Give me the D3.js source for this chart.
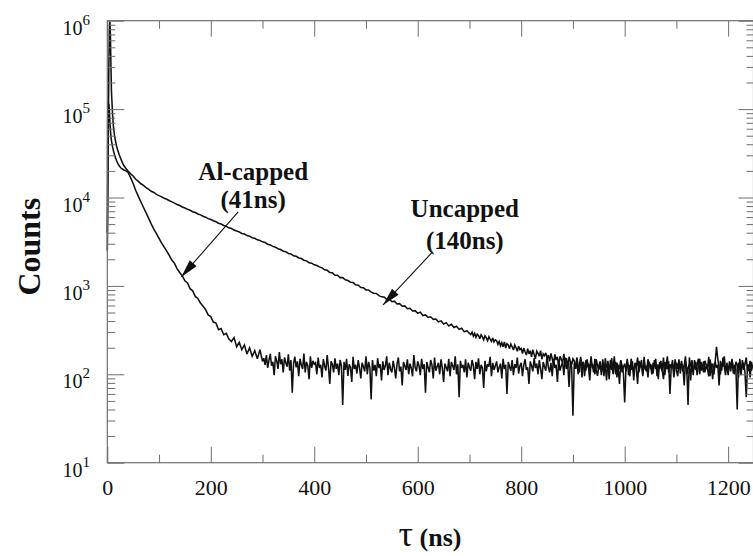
<!DOCTYPE html>
<html>
<head>
<meta charset="utf-8">
<script src="https://cdn.jsdelivr.net/npm/d3@7"></script>
<style>
  html, body { margin: 0; padding: 0; background: #ffffff; }
  svg { display: block; }
</style>
</head>
<body>
<div id="chart"></div>
<script>
// ---------------- data ----------------
const xTicksMajor = [0, 200, 400, 600, 800, 1000, 1200];
const yDecades = [1, 2, 3, 4, 5, 6];          // exponents: 10^1 .. 10^6

// early channels (ns) shared by both curves
const headT = [0, 1, 2, 3, 4, 5, 6, 7, 8, 10, 12, 14, 16, 18, 20, 23, 26, 29, 32, 36];
const uncappedHead = [2500, 9000, 60000, 300000, 750000, 980000, 700000, 320000, 160000, 90000,
                      62000, 50000, 43000, 38000, 34500, 30500, 27500, 25000, 23000, 21300];
const alcappedHead = [4000, 125000, 85000, 115000, 95000, 72000, 58000, 50000, 44000, 38000,
                      33500, 30500, 28000, 26000, 24500, 22800, 21700, 21000, 20500, 20000];

// decay part: one value every 5 ns starting at 40 ns
const tailStart = 40, tailStep = 5;
const uncappedTail = [
  19950, 18500, 17500, 16100, 15200, 14300, 13700, 12900, 12350, 11750,
  11400, 10850, 10500, 10150, 9800, 9540, 9180, 8930, 8650, 8330,
  8120, 7800, 7610, 7350, 7170, 6900, 6750, 6510, 6360, 6130,
  5990, 5770, 5640, 5450, 5320, 5120, 5010, 4820, 4720, 4540,
  4450, 4280, 4190, 4080, 3920, 3860, 3710, 3650, 3510, 3460,
  3320, 3270, 3150, 3090, 2960, 2910, 2800, 2740, 2630, 2580,
  2470, 2440, 2330, 2300, 2190, 2160, 2070, 2040, 1950, 1920,
  1830, 1810, 1730, 1700, 1640, 1600, 1520, 1500, 1420, 1410,
  1320, 1320, 1240, 1240, 1170, 1150, 1100, 1090, 1030, 1020,
  960, 955, 900, 900, 850, 825, 822, 775, 752, 750,
  705, 710, 662, 672, 625, 630, 588, 594, 552, 558,
  520, 525, 490, 505, 462, 470, 440, 447, 418, 422,
  392, 402, 370, 384, 352, 368, 338, 350, 322, 332,
  302, 312, 290
];
const alcappedTail = [
  19300, 16800, 14400, 12000, 10300, 8900, 7700, 6700, 5800, 5000,
  4400, 3900, 3450, 3050, 2750, 2480, 2200, 1950, 1800, 1560,
  1420, 1300, 1140, 1080, 930, 880, 760, 720, 640, 590,
  540, 470, 450, 390, 380, 320, 330, 280, 290, 250,
  235, 260, 205, 230, 190, 215, 170, 200, 160, 185,
  150, 190, 140
];

// noisy background part: one value every 2.5 ns
const noiseStep = 2.5;
const uncappedNoiseStart = 702.5;
const uncappedNoise = [
  282, 300, 270, 290, 262, 285, 275, 252, 280, 265, 245, 272, 258, 240, 266, 250, 236, 258, 232, 245,
  240, 218, 235, 210, 228, 205, 232, 198, 222, 215, 195, 220, 205, 188, 215, 200, 182, 208, 190, 196,
  172, 198, 180, 165, 195, 170, 185, 158, 190, 168, 150, 182, 172, 160, 185, 148, 170, 162, 175, 152,
  165, 140, 172, 150, 128, 168, 145, 158, 122, 160, 148, 135, 170, 130, 152, 118, 158, 140, 128, 150,
  142, 115, 155, 128, 105, 150, 125, 138, 95, 145, 120, 132, 110, 160, 118, 128, 100, 148, 125, 112,
  135, 98, 148, 118, 125, 85, 142, 110, 130, 152, 100, 122, 138, 92, 128, 115, 145, 105, 120, 132,
  108, 140, 118, 95, 150, 125, 102, 135, 115, 78, 142, 120, 130, 100, 158, 112, 125, 92, 138, 118,
  125, 102, 145, 115, 130, 88, 138, 120, 110, 155, 98, 128, 115, 140, 60, 122, 132, 105, 148, 112,
  95, 135, 120, 142, 108, 125, 160, 100, 118, 130, 85, 145, 112, 122, 138, 98, 128, 150, 110, 120,
  140, 105, 125, 115, 95, 148, 120, 132, 100, 138, 118, 128, 75, 142, 110, 155, 122, 98, 135, 115,
  125, 108, 145, 118, 100, 138, 128, 92, 150, 115, 122, 135, 105, 55, 130, 118, 142, 110, 125
];
const alcappedNoiseStart = 302.5;
const alcappedNoise = [
  152, 128, 165, 118, 145, 170, 125, 138, 98, 160, 142, 115, 178, 130, 148, 105, 155, 135, 122, 168,
  110, 145, 62, 132, 158, 120, 140, 95, 150, 128, 115, 172, 105, 138, 125, 88, 160, 118, 142, 130,
  135, 100, 155, 118, 128, 92, 148, 125, 110, 165, 120, 78, 140, 130, 105, 152, 115, 132, 98, 145,
  125, 45, 138, 112, 150, 96, 130, 120, 82, 158, 115, 128, 102, 145, 118, 90, 135, 122, 108, 160,
  100, 138, 120, 52, 145, 110, 128, 95, 152, 118, 130, 85, 140, 112, 125, 160, 98, 135, 115, 105,
  142, 118, 90, 130, 155, 108, 122, 75, 138, 125, 112, 148, 100, 132, 118, 95, 165, 120, 108, 140,
  125, 98, 150, 115, 130, 62, 138, 120, 105, 145, 128, 90, 155, 110, 122, 135, 100, 148, 118, 82,
  132, 120, 108, 150, 95, 138, 125, 112, 160, 100, 130, 55, 142, 118, 128, 105, 148, 92, 135, 120,
  110, 145, 125, 88, 138, 115, 152, 100, 128, 118, 70, 142, 108, 130, 122, 158, 95, 135, 112, 125,
  140, 105, 120, 132, 90, 150, 115, 128, 60, 138, 122, 110, 145, 98, 130, 118, 155, 102, 125, 135,
  95, 128, 148, 112, 120, 78, 140, 125, 108, 152, 118, 132, 100, 145, 115, 88, 138, 122, 110, 160,
  120, 105, 135, 95, 150, 118, 128, 82, 142, 110, 125, 138, 98, 155, 115, 130, 72, 140, 120, 34,
  132, 115, 145, 100, 125, 158, 92, 138, 118, 110, 148, 120, 85, 135, 128, 105, 150, 112, 96, 125,
  140, 108, 125, 95, 152, 118, 130, 88, 145, 112, 120, 160, 100, 135, 115, 78, 142, 125, 105, 48,
  118, 150, 98, 128, 112, 140, 85, 132, 120, 155, 105, 125, 145, 95, 138, 115, 108, 148, 122, 130,
  100, 135, 122, 150, 95, 128, 115, 142, 110, 88, 138, 125, 160, 105, 130, 118, 145, 92, 120, 135,
  115, 148, 102, 130, 125, 75, 140, 118, 45, 155, 122, 135, 98, 145, 112, 128, 150, 100, 138, 120,
  105, 142, 128, 115, 158, 95, 132, 88, 125, 140, 205, 150, 118, 100, 135, 122, 160, 112, 128, 98,
  140, 118, 150, 102, 128, 115, 40, 135, 122, 98, 145, 112, 130, 155, 108, 125, 92, 138, 118
];

// annotations: label lines, label anchors (t, counts), arrow tail and tip (t, counts)
const annotations = [
  { lines: ["Al-capped", "(41ns)"], at: [282, 15800], at2: [282, 7600],
    from: [253, 6890], to: [143, 1265] },
  { lines: ["Uncapped", "(140ns)"], at: [691, 5990], at2: [691, 2600],
    from: [627, 2366], to: [533, 610] }
];

// ---------------- drawing ----------------
const W = 753, H = 556;
const pLeft = 107.3, pRight = 753.5, pTop = 20.7, pBottom = 462.7;

const svg = d3.select("#chart").append("svg")
  .attr("width", W).attr("height", H);

const x = d3.scaleLinear().domain([0, 1249]).range([pLeft, pRight]);
const y = d3.scaleLog().domain([10, 1e6]).range([pBottom, pTop]);

function series(head, tail, noiseStart, noise) {
  const pts = headT.map((t, i) => ({ t, v: head[i] }));
  tail.forEach((v, i) => pts.push({ t: tailStart + i * tailStep, v }));
  noise.forEach((v, i) => pts.push({ t: noiseStart + i * noiseStep, v }));
  return pts;
}
const curves = [
  series(alcappedHead, alcappedTail, alcappedNoiseStart, alcappedNoise),
  series(uncappedHead, uncappedTail, uncappedNoiseStart, uncappedNoise)
];

svg.append("clipPath").attr("id", "clip")
  .append("rect").attr("x", pLeft - 2).attr("y", pTop)
  .attr("width", pRight - pLeft + 2).attr("height", pBottom - pTop);

const line = d3.line().x(d => x(d.t)).y(d => y(d.v));
svg.append("g").attr("clip-path", "url(#clip)")
  .selectAll("path").data(curves).join("path")
  .attr("d", line)
  .attr("fill", "none").attr("stroke", "#111")
  .attr("stroke-width", 1.55).attr("stroke-linejoin", "miter").attr("stroke-miterlimit", 3);

// axes (ticks inward on all four sides)
const axisColor = "#6e6e6e";
const xMinor = d3.range(100, 1249, 200);
const yMinor = [];
for (let e = 1; e < 6; e++) for (let m = 2; m <= 9; m++) yMinor.push(m * Math.pow(10, e));

function styleAxis(g) {
  g.select(".domain").remove();
  g.selectAll("line").attr("stroke", axisColor).attr("stroke-width", 1);
}
const serif = "'Liberation Serif', 'Times New Roman', serif";

// bottom
svg.append("g").attr("transform", `translate(0,${pBottom})`)
  .call(d3.axisBottom(x).tickValues(xTicksMajor).tickSize(-16).tickFormat(d3.format("d")))
  .call(styleAxis)
  .call(g => g.selectAll("text")
    .attr("font-family", serif)
    .attr("font-size", 22).attr("fill", "#111").attr("dy", null).attr("y", 32));
svg.append("g").attr("transform", `translate(0,${pBottom})`)
  .call(d3.axisBottom(x).tickValues(xMinor).tickSize(-8).tickFormat(""))
  .call(styleAxis);
// top
svg.append("g").attr("transform", `translate(0,${pTop})`)
  .call(d3.axisTop(x).tickValues(xTicksMajor).tickSize(-16).tickFormat(""))
  .call(styleAxis);
svg.append("g").attr("transform", `translate(0,${pTop})`)
  .call(d3.axisTop(x).tickValues(xMinor).tickSize(-8).tickFormat(""))
  .call(styleAxis);
// left
const yMajorVals = yDecades.map(e => Math.pow(10, e));
svg.append("g").attr("transform", `translate(${pLeft},0)`)
  .call(d3.axisLeft(y).tickValues(yMajorVals).tickSize(-17).tickFormat(""))
  .call(styleAxis);
svg.append("g").attr("transform", `translate(${pLeft},0)`)
  .call(d3.axisLeft(y).tickValues(yMinor).tickSize(-8).tickFormat(""))
  .call(styleAxis);
// right
svg.append("g").attr("transform", `translate(${pRight},0)`)
  .call(d3.axisRight(y).tickValues(yMajorVals).tickSize(-15).tickFormat(""))
  .call(styleAxis);
svg.append("g").attr("transform", `translate(${pRight},0)`)
  .call(d3.axisRight(y).tickValues(yMinor).tickSize(-7).tickFormat(""))
  .call(styleAxis);

// frame
svg.append("rect").attr("x", pLeft).attr("y", pTop)
  .attr("width", pRight - pLeft).attr("height", pBottom - pTop)
  .attr("fill", "none").attr("stroke", axisColor).attr("stroke-width", 1.2);

// y tick labels 10^n
const yl = svg.append("g").selectAll("text").data(yDecades).join("text")
  .attr("x", 90).attr("y", e => y(Math.pow(10, e)) + 14)
  .attr("text-anchor", "end").attr("font-family", serif).attr("fill", "#111");
yl.append("tspan").attr("font-size", 20).text("10");
yl.append("tspan").attr("font-size", 15).attr("dy", -10).text(e => e);

// axis titles
svg.append("text")
  .attr("transform", `translate(40,${(pTop + pBottom) / 2 + 5}) rotate(-90)`)
  .attr("text-anchor", "middle").attr("font-family", serif)
  .attr("font-weight", "bold").attr("font-size", 32).attr("fill", "#111")
  .text("Counts");

const xt = svg.append("text").attr("x", 430).attr("y", 546)
  .attr("text-anchor", "middle").attr("font-family", serif).attr("fill", "#111");
xt.append("tspan").attr("font-size", 36).text("τ");
xt.append("tspan").attr("font-size", 26).attr("font-weight", "bold").text(" (ns)");

// annotations
const ann = svg.append("g");
annotations.forEach(a => {
  [a.at, a.at2].forEach((p, i) => {
    ann.append("text").attr("x", x(p[0])).attr("y", y(p[1]))
      .attr("text-anchor", "middle").attr("font-family", serif)
      .attr("font-weight", "bold").attr("font-size", 25).attr("fill", "#111")
      .text(a.lines[i]);
  });
  const x1 = x(a.from[0]), y1 = y(a.from[1]), x2 = x(a.to[0]), y2 = y(a.to[1]);
  ann.append("line").attr("x1", x1).attr("y1", y1).attr("x2", x2).attr("y2", y2)
    .attr("stroke", "#111").attr("stroke-width", 1.1);
  const ang = Math.atan2(y2 - y1, x2 - x1);
  const L = 18, Wd = 4.5;
  const bx = x2 - L * Math.cos(ang), by = y2 - L * Math.sin(ang);
  const px = -Math.sin(ang) * Wd, py = Math.cos(ang) * Wd;
  ann.append("path")
    .attr("d", `M${x2},${y2}L${bx + px},${by + py}L${bx - px},${by - py}Z`)
    .attr("fill", "#111");
});
</script>
</body>
</html>
